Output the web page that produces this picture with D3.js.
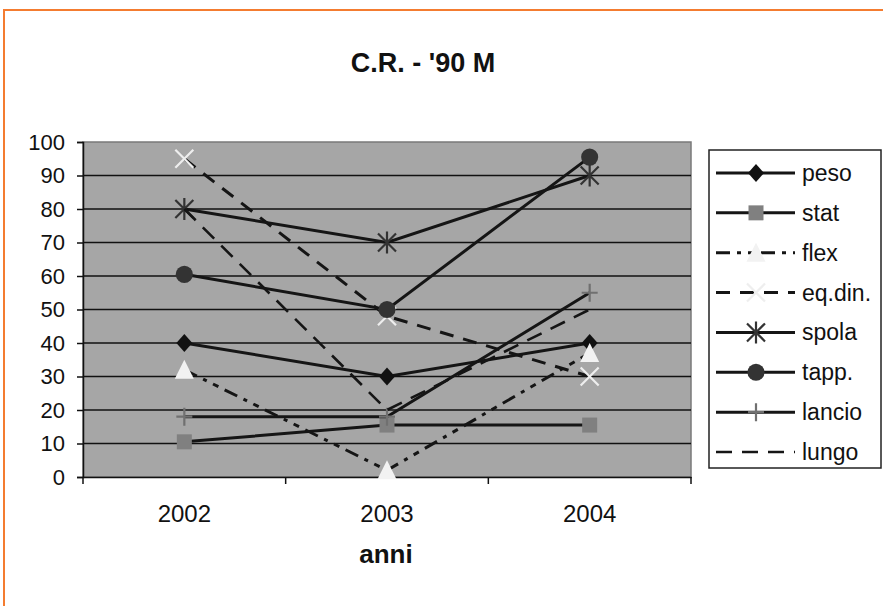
<!DOCTYPE html>
<html><head><meta charset="utf-8">
<script src="https://cdn.jsdelivr.net/npm/d3@7"></script>
<style>body{margin:0;background:#fff}svg{display:block}text{font-family:"Liberation Sans",Arial,sans-serif}</style>
</head><body>
<svg id="c" width="883" height="606"></svg>
<script>
const years = ['2002','2003','2004'];
const seriesNames = ['peso','stat','flex','eq.din.','spola','tapp.','lancio','lungo'];
const peso   = [40, 30, 40];
const stat   = [10.5, 15.5, 15.5];
const flex   = [32, 2, 37];
const eqdin  = [95, 48, 30];
const spola  = [80, 70, 90];
const tapp   = [60.5, 50, 95.5];
const lancio = [18, 18, 55];
const lungo  = [80, 20, 50];
const yTicks = [0,10,20,30,40,50,60,70,80,90,100];
const title = "C.R. - '90 M";
const xTitle = 'anni';

const values = [peso, stat, flex, eqdin, spola, tapp, lancio, lungo];
const styles = [
  {dash:null, marker:'diamond', fill:'#111', stroke:'#111'},
  {dash:null, marker:'square', fill:'#808080', stroke:'#808080'},
  {dash:'14,7,4,7,6,7', marker:'triangle', fill:'#f2f2f2', stroke:'#f2f2f2'},
  {dash:'14,10', marker:'x', fill:'none', stroke:'#eeeeee'},
  {dash:null, marker:'star', fill:'none', stroke:'#333'},
  {dash:null, marker:'circle', fill:'#333', stroke:'#333'},
  {dash:null, marker:'plus', fill:'none', stroke:'#707070'},
  {dash:'16,10', marker:null, fill:'none', stroke:'#111'}
];
const series = seriesNames.map((n,i)=>({name:n, values:values[i], style:styles[i]}));

const svg = d3.select('#c');
// orange frame
svg.append('rect').attr('x',4).attr('y',10).attr('width',900).attr('height',620)
  .attr('fill','#fff').attr('stroke','#f47c30').attr('stroke-width',2);

const x = d3.scaleBand().domain(years).range([83,691]).padding(0);
const y = d3.scaleLinear().domain([0,100]).range([477,142]);

// plot area
svg.append('rect').attr('x',83).attr('y',142).attr('width',608).attr('height',335)
  .attr('fill','#a6a6a6').attr('stroke','#7a7a7a').attr('stroke-width',1.5);

// grid
svg.append('g').selectAll('line').data(yTicks.filter(t=>t>0&&t<100)).join('line')
  .attr('x1',83).attr('x2',691).attr('y1',d=>y(d)).attr('y2',d=>y(d))
  .attr('stroke','#111').attr('stroke-width',1.5);

// y axis
const ya = svg.append('g').attr('transform','translate(83,0)')
  .call(d3.axisLeft(y).tickValues(yTicks).tickSize(6).tickPadding(12));
ya.select('.domain').attr('stroke','#111').attr('stroke-width',1.5);
ya.selectAll('.tick line').attr('stroke','#111').attr('stroke-width',1.5);
ya.selectAll('text').attr('font-size',22).attr('fill','#111')
  .style('font-family','"Liberation Sans",Arial,sans-serif');

// x axis
const xa = svg.append('g').attr('transform','translate(0,477)')
  .call(d3.axisBottom(x).tickSize(0).tickPadding(28));
xa.select('.domain').attr('stroke','#111').attr('stroke-width',1.5);
xa.selectAll('text').attr('font-size',24).attr('fill','#111')
  .style('font-family','"Liberation Sans",Arial,sans-serif');
// category boundary ticks
const bounds = years.map(d=>x(d)).concat([x(years[years.length-1])+x.bandwidth()]);
svg.append('g').selectAll('line').data(bounds).join('line')
  .attr('x1',d=>d).attr('x2',d=>d).attr('y1',477).attr('y2',484)
  .attr('stroke','#111').attr('stroke-width',1.5);

// title
svg.append('text').attr('x',423).attr('y',72).attr('text-anchor','middle')
  .attr('font-size',27).attr('font-weight','bold').attr('fill','#111').text(title);
svg.append('text').attr('x',386).attr('y',563).attr('text-anchor','middle')
  .attr('font-size',26).attr('font-weight','bold').attr('fill','#111').text(xTitle);

function markerPath(type){
  switch(type){
    case 'diamond': return 'M0,-9L8,0L0,9L-8,0Z';
    case 'square': return 'M-7.5,-7.5H7.5V7.5H-7.5Z';
    case 'triangle': return 'M0,-10L9.5,9L-9.5,9Z';
    case 'circle': return d3.symbol(d3.symbolCircle, 230)();
    case 'x': return 'M-9,-9L9,9M-9,9L9,-9';
    case 'star': return 'M-9,-9L9,9M-9,9L9,-9M0,-11L0,11';
    case 'plus': return 'M-8,0H8M0,-9V9';
  }
  return null;
}
function drawMarker(g, s, cx, cy){
  if(!s.marker) return;
  const p = g.append('path').attr('d', markerPath(s.marker)).attr('transform',`translate(${cx},${cy})`);
  if(['x','star','plus'].includes(s.marker)){
    p.attr('fill','none').attr('stroke',s.stroke).attr('stroke-width',2.2);
  } else {
    p.attr('fill',s.fill).attr('stroke','none');
  }
}

const cx = d=>x(d)+x.bandwidth()/2;
const line = d3.line().x((d,i)=>cx(years[i])).y(d=>y(d));
const plot = svg.append('g');
series.forEach(s=>{
  const g = plot.append('g');
  g.append('path').attr('d', line(s.values)).attr('fill','none')
    .attr('stroke','#151515').attr('stroke-width', s.name==='lungo'?2.6:3)
    .attr('stroke-dasharray', s.style.dash);
  s.values.forEach((v,i)=>drawMarker(g, s.style, cx(years[i]), y(v)));
});

// legend
const lg = svg.append('g');
lg.append('rect').attr('x',709).attr('y',150).attr('width',172).attr('height',318)
  .attr('fill','#fff').attr('stroke','#222').attr('stroke-width',1.5);
const ly = d3.scalePoint().domain(seriesNames).range([173,452]);
series.forEach(s=>{
  const yy = ly(s.name);
  const g = lg.append('g');
  g.append('line').attr('x1',716).attr('x2',795).attr('y1',yy).attr('y2',yy)
    .attr('stroke','#151515').attr('stroke-width', s.name==='lungo'?2.6:3)
    .attr('stroke-dasharray', s.style.dash);
  drawMarker(g, s.style, 756, yy);
  g.append('text').attr('x',802).attr('y',yy+8).attr('font-size',23).attr('fill','#111').text(s.name);
});
</script>
</body></html>
